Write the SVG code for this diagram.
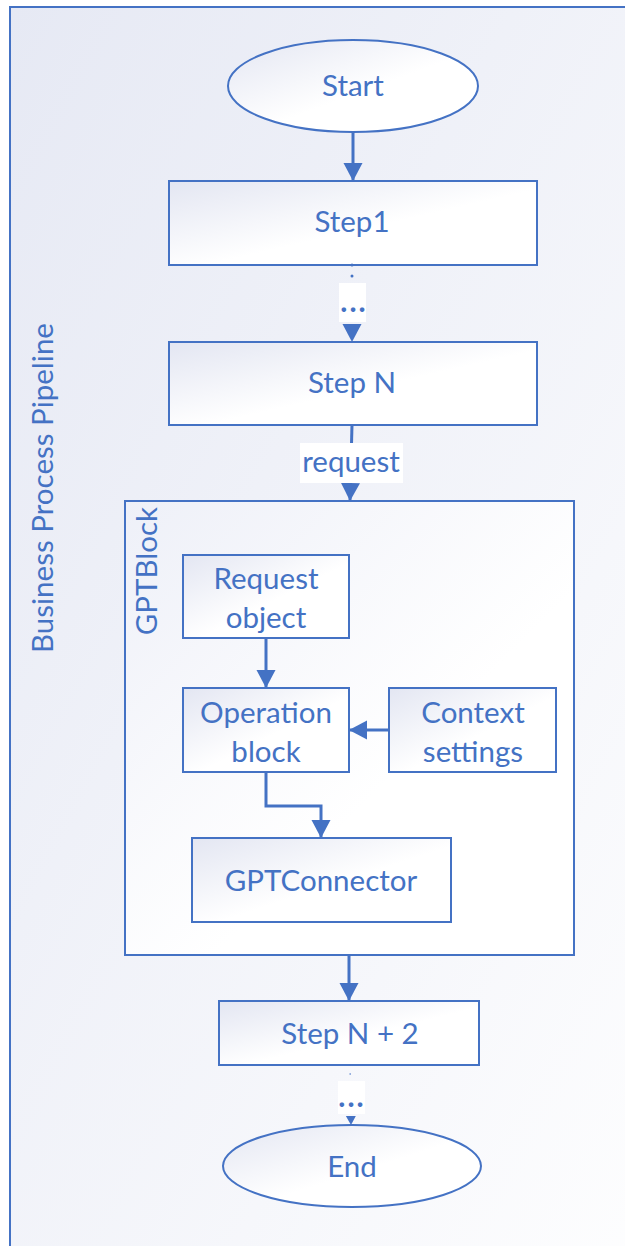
<svg xmlns="http://www.w3.org/2000/svg" width="625" height="1246" viewBox="0 0 625 1246">
<defs>
<linearGradient id="gFrame" x1="0" y1="0" x2="1" y2="1">
<stop offset="0" stop-color="#E6E9F4"/>
<stop offset="1" stop-color="#FFFFFF"/>
</linearGradient>
<linearGradient id="gNode" x1="0" y1="0" x2="1" y2="1">
<stop offset="0" stop-color="#E3E6F2"/>
<stop offset="0.55" stop-color="#FFFFFF"/>
<stop offset="1" stop-color="#FFFFFF"/>
</linearGradient>
<linearGradient id="gBlock" x1="0" y1="0" x2="1" y2="1">
<stop offset="0" stop-color="#EEF0F8"/>
<stop offset="0.6" stop-color="#FFFFFF"/>
<stop offset="1" stop-color="#FFFFFF"/>
</linearGradient>
<marker id="arrow" markerUnits="userSpaceOnUse" markerWidth="19" markerHeight="20" refX="18" refY="9.5" orient="auto">
<path d="M0,0 L18,9.5 L0,19 Z" fill="#4472C4"/>
</marker>
<marker id="arrowSmall" markerUnits="userSpaceOnUse" markerWidth="10" markerHeight="11" refX="9" refY="5" orient="auto">
<path d="M0,0 L9,5 L0,10 Z" fill="#4472C4"/>
</marker>
</defs>
<style>
.shape{stroke:#4472C4;stroke-width:2;fill:url(#gNode)}
.frame{stroke:#4472C4;stroke-width:2;fill:url(#gFrame)}
.block{stroke:#4472C4;stroke-width:2;fill:url(#gBlock)}
.t{font-family:Lato,"Liberation Sans",sans-serif;font-size:29.5px;fill:#4472C4;text-anchor:middle}
.conn{stroke:#4472C4;stroke-width:3;fill:none}
.dotted{stroke:#4472C4;stroke-width:3;fill:none;stroke-dasharray:0 11;stroke-linecap:round}
.dottedThin{stroke:#4472C4;stroke-width:1.5;fill:none;stroke-dasharray:0 9;stroke-linecap:round}
.lblbg{fill:#FFFFFF}
.dots{font-family:Lato,"Liberation Sans",sans-serif;font-size:30px;font-weight:bold;fill:#4472C4;text-anchor:middle;letter-spacing:2px}
</style>
<rect width="625" height="1246" fill="#FFFFFF"/>
<g id="pipeline">
<rect class="frame" x="10" y="7" width="700" height="1300"/>
<text class="t" transform="translate(53,488) rotate(-90)">Business Process Pipeline</text>
</g>
<g id="gptblock">
<rect class="block" x="125" y="501" width="449" height="454"/>
<text class="t" style="text-anchor:end" transform="translate(157,507) rotate(-90)">GPTBlock</text>
</g>
<g id="start">
<ellipse class="shape" cx="353" cy="86" rx="125" ry="46"/>
<text class="t" x="353" y="96">Start</text>
</g>
<g id="step1">
<rect class="shape" x="169" y="181" width="368" height="84"/>
<text class="t" x="352" y="232">Step1</text>
</g>
<g id="stepN">
<rect class="shape" x="169" y="342" width="368" height="83"/>
<text class="t" x="352" y="393">Step N</text>
</g>
<g id="requestObject">
<rect class="shape" x="183" y="555" width="166" height="83"/>
<text class="t" x="266" y="589">Request</text>
<text class="t" x="266" y="628">object</text>
</g>
<g id="operationBlock">
<rect class="shape" x="183" y="688" width="166" height="84"/>
<text class="t" x="266" y="723">Operation</text>
<text class="t" x="266" y="762">block</text>
</g>
<g id="contextSettings">
<rect class="shape" x="389" y="688" width="167" height="84"/>
<text class="t" x="473" y="723">Context</text>
<text class="t" x="473" y="762">settings</text>
</g>
<g id="gptConnector">
<rect class="shape" x="192" y="838" width="259" height="84"/>
<text class="t" x="321" y="891">GPTConnector</text>
</g>
<g id="stepN2">
<rect class="shape" x="219" y="1001" width="260" height="64"/>
<text class="t" x="350" y="1044">Step N + 2</text>
</g>
<g id="end">
<ellipse class="shape" cx="352" cy="1166" rx="129" ry="41"/>
<text class="t" x="352" y="1177">End</text>
</g>
<g id="connectors">
<path class="conn" d="M353,132 L353,181" marker-end="url(#arrow)"/>
<path class="dotted" d="M352,265 L352,342" marker-end="url(#arrow)"/>
<rect class="lblbg" x="339" y="283" width="27" height="39"/>
<text class="dots" x="354" y="312">...</text>
<path class="conn" d="M352,425 L350,501" marker-end="url(#arrow)"/>
<rect class="lblbg" x="300" y="443" width="103" height="40"/>
<text class="t" x="351" y="472">request</text>
<path class="conn" d="M266,772 L266,806 L321,806 L321,838" marker-end="url(#arrow)"/>
<path class="conn" d="M266,638 L266,688" marker-end="url(#arrow)"/>
<path class="conn" d="M389,730 L349,730" marker-end="url(#arrow)"/>
<path class="conn" d="M349,955 L349,1001" marker-end="url(#arrow)"/>
<path class="dottedThin" d="M350,1065 L351,1125" marker-end="url(#arrowSmall)"/>
<rect class="lblbg" x="338" y="1081" width="27" height="33"/>
<text class="dots" x="352" y="1107">...</text>
</g>
</svg>
